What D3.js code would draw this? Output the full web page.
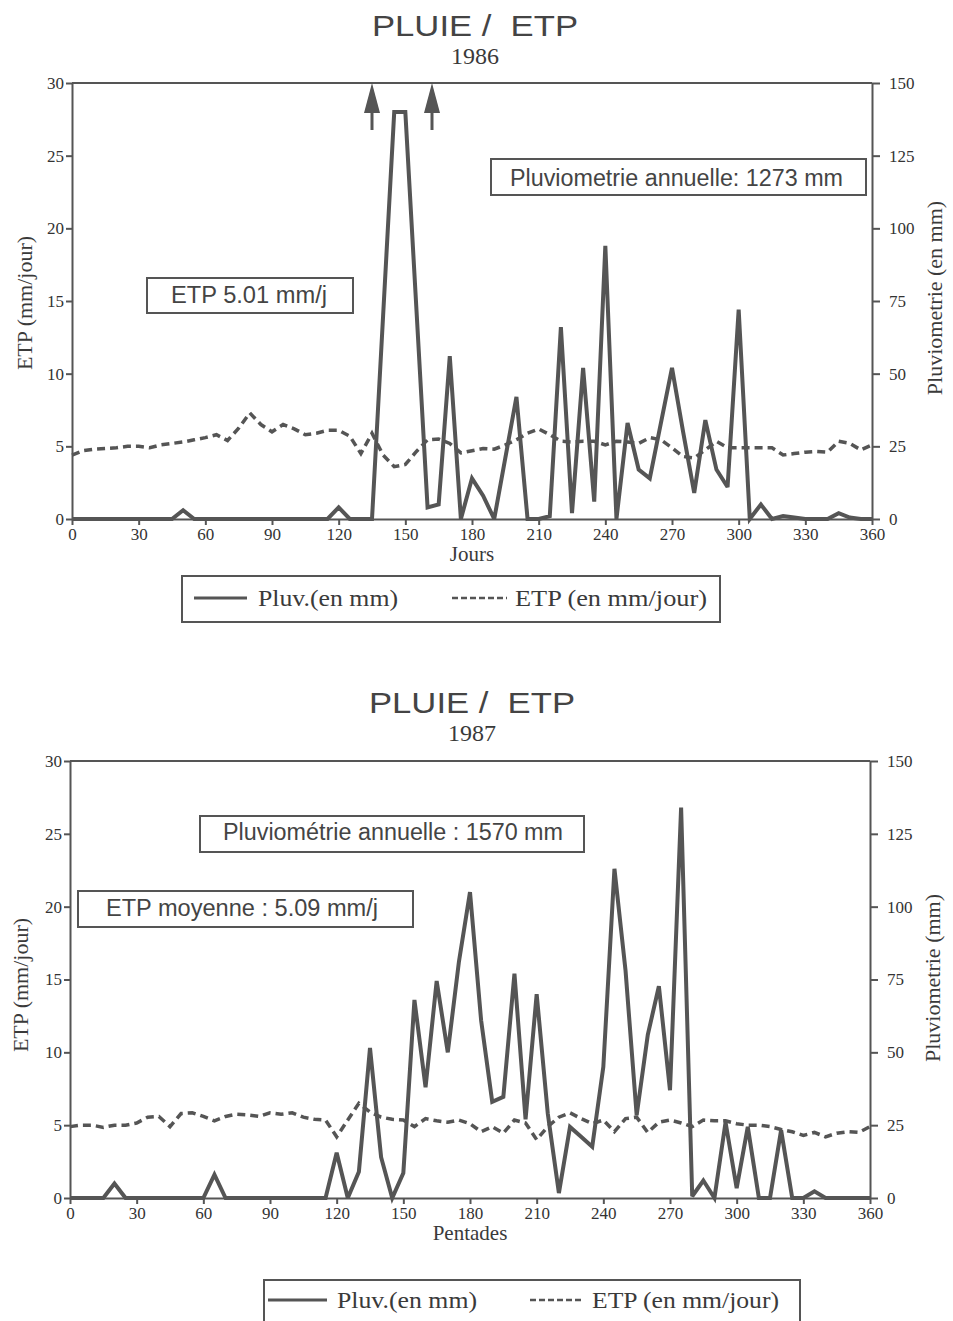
<!DOCTYPE html>
<html>
<head>
<meta charset="utf-8">
<script src="https://cdn.jsdelivr.net/npm/d3@7"></script>
<style>
  body { margin: 0; background: #fff; }
  svg text { fill: #3a3a3a; }
  .axis path, .axis line { stroke: #555; stroke-width: 2; }
</style>
</head>
<body>
<svg id="chart"></svg>
<script>
// pentades (days)
const days = [
  0, 5, 10, 15, 20, 25, 30, 35, 40, 45, 50, 55,
  60, 65, 70, 75, 80, 85, 90, 95, 100, 105, 110, 115,
  120, 125, 130, 135, 140, 145, 150, 155, 160, 165, 170, 175,
  180, 185, 190, 195, 200, 205, 210, 215, 220, 225, 230, 235,
  240, 245, 250, 255, 260, 265, 270, 275, 280, 285, 290, 295,
  300, 305, 310, 315, 320, 325, 330, 335, 340, 345, 350, 355,
  360
]

// 1986
const rain1986 = [
  0, 0, 0, 0, 0, 0, 0, 0, 0, 0, 3, 0,
  0, 0, 0, 0, 0, 0, 0, 0, 0, 0, 0, 0,
  4, 0, 0, 0, 70, 140, 140, 72, 4, 5, 56, 0,
  14, 8, 0, 21, 42, 0, 0, 1, 66, 2, 52, 6,
  94, 0, 33, 17, 14, 33, 52, 30, 9, 34, 17, 11,
  72, 0, 5, 0, 1, 0.5, 0, 0, 0, 2, 0.5, 0,
  0
]
const etp1986 = [
  4.4, 4.7, 4.8, 4.85, 4.9, 5.0, 5.0, 4.9, 5.1, 5.2, 5.3, 5.45,
  5.6, 5.8, 5.4, 6.25, 7.3, 6.5, 6.0, 6.5, 6.2, 5.8, 5.9, 6.1,
  6.1, 5.7, 4.5, 5.9, 4.4, 3.6, 3.75, 4.65, 5.45, 5.5, 5.2, 4.55,
  4.7, 4.85, 4.8, 5.1, 5.45, 5.9, 6.2, 5.8, 5.35, 5.3, 5.35, 5.35,
  5.1, 5.35, 5.3, 5.2, 5.6, 5.45, 4.9, 4.3, 4.2, 4.75, 5.35, 4.9,
  4.9, 4.9, 4.9, 4.9, 4.4, 4.5, 4.6, 4.65, 4.6, 5.35, 5.2, 4.75,
  5.1
]
const arrowDays1986 = [135, 162]

// 1987
const rain1987 = [
  0, 0, 0, 0, 5, 0, 0, 0, 0, 0, 0, 0,
  0, 8, 0, 0, 0, 0, 0, 0, 0, 0, 0, 0,
  15.5, 0, 9, 51.5, 14, 0, 8.6, 68, 38, 74.5, 50, 81,
  105, 61, 33, 34.7, 77, 27, 70, 29, 1.7, 24.4, 21, 17.6,
  45, 113, 78, 28.4, 56, 72.7, 37, 134, 0.6, 6, 0, 26,
  3.4, 24.4, 0, 0, 23.3, 0, 0, 2.3, 0, 0, 0, 0,
  0
]
const etp1987 = [
  4.9, 5.0, 5.0, 4.85, 5.0, 5.0, 5.15, 5.55, 5.6, 4.9, 5.8, 5.85,
  5.6, 5.3, 5.6, 5.75, 5.7, 5.6, 5.85, 5.75, 5.85, 5.55, 5.4, 5.35,
  4.2, 5.35, 6.5, 5.9, 5.55, 5.4, 5.35, 4.9, 5.45, 5.3, 5.2, 5.35,
  5.1, 4.55, 4.9, 4.45, 5.35, 5.15, 4.0, 4.9, 5.55, 5.85, 5.45, 5.1,
  5.35, 4.55, 5.45, 5.55, 4.5, 5.2, 5.35, 5.15, 4.9, 5.35, 5.3, 5.3,
  5.1, 5.0, 5.0, 4.9, 4.7, 4.55, 4.3, 4.5, 4.2, 4.45, 4.55, 4.5,
  4.9
]

// tick labels
const xTicks = [0, 30, 60, 90, 120, 150, 180, 210, 240, 270, 300, 330, 360]
const etpTicks = [0, 5, 10, 15, 20, 25, 30]
const rainTicks = [0, 25, 50, 75, 100, 125, 150]

const legendLabels = ['Pluv.(en mm)', 'ETP (en mm/jour)']

const serif = '"Liberation Serif", "DejaVu Serif", serif'
const sans = '"Liberation Sans", Arial, sans-serif'
const ink = '#555'

const svg = d3.select('#chart')
  .attr('width', 953)
  .attr('height', 1321)

// tick text in serif, like the original
function styleTicks(sel) {
  sel.selectAll('text')
    .style('font-family', serif)
    .style('font-size', '17px')
    .style('fill', '#333')
}

function drawPanel(p) {
  const g = svg.append('g')

  const xScale = d3.scaleLinear().domain([0, 360]).range([p.left, p.right])
  const yEtp = d3.scaleLinear().domain([0, 30]).range([p.bottom, p.top])
  const yRain = d3.scaleLinear().domain([0, 150]).range([p.bottom, p.top])

  // title (wide glyphs, as in the scan)
  g.append('text')
    .attr('x', p.titleX - 103).attr('y', p.titleY)
    .attr('textLength', 206).attr('lengthAdjust', 'spacingAndGlyphs')
    .style('font-family', sans).style('font-size', '29px')
    .style('fill', '#444')
    .attr('xml:space', 'preserve')
    .text('PLUIE /  ETP')
  g.append('text')
    .attr('x', p.titleX).attr('y', p.yearY)
    .attr('text-anchor', 'middle')
    .style('font-family', serif).style('font-size', '24px')
    .text(p.year)

  // frame top
  g.append('line')
    .attr('x1', p.left).attr('x2', p.right)
    .attr('y1', p.top).attr('y2', p.top)
    .attr('stroke', ink).attr('stroke-width', 2)

  // axes
  g.append('g').attr('class', 'axis')
    .attr('transform', `translate(0,${p.bottom})`)
    .call(d3.axisBottom(xScale).tickValues(xTicks).tickSize(6).tickPadding(3).tickSizeOuter(0))
    .call(styleTicks)

  g.append('g').attr('class', 'axis')
    .attr('transform', `translate(${p.left},0)`)
    .call(d3.axisLeft(yEtp).tickValues(etpTicks).tickSize(6).tickPadding(2).tickSizeOuter(0))
    .call(styleTicks)

  g.append('g').attr('class', 'axis')
    .attr('transform', `translate(${p.right},0)`)
    .call(d3.axisRight(yRain).tickValues(rainTicks).tickSize(8).tickPadding(9).tickSizeOuter(0))
    .call(styleTicks)

  // axis titles
  g.append('text')
    .attr('x', (p.left + p.right) / 2).attr('y', p.bottom + 42)
    .attr('text-anchor', 'middle')
    .style('font-family', serif).style('font-size', '21px')
    .text(p.xLabel)

  g.append('text')
    .attr('transform', `translate(${p.leftLabelX},${p.leftLabelY}) rotate(-90)`)
    .attr('text-anchor', 'middle')
    .style('font-family', serif).style('font-size', '22px')
    .text('ETP (mm/jour)')

  g.append('text')
    .attr('transform', `translate(${p.rightLabelX},${p.rightLabelY}) rotate(-90)`)
    .attr('text-anchor', 'middle')
    .style('font-family', serif).style('font-size', '22px')
    .text(p.rightLabel)

  // ETP dashed line
  const etpLine = d3.line()
    .x((d, i) => xScale(days[i]))
    .y(d => yEtp(d))
  g.append('path')
    .datum(p.etp)
    .attr('d', etpLine)
    .attr('fill', 'none')
    .attr('stroke', ink)
    .attr('stroke-width', 3.5)
    .attr('stroke-dasharray', '8,5')

  // rain solid line
  const rainLine = d3.line()
    .x((d, i) => xScale(days[i]))
    .y(d => yRain(d))
  g.append('path')
    .datum(p.rain)
    .attr('d', rainLine)
    .attr('fill', 'none')
    .attr('stroke', ink)
    .attr('stroke-width', 4)
    .attr('stroke-linejoin', 'miter')
    .attr('stroke-miterlimit', 3)

  // arrows
  p.arrows.forEach(d => {
    const x = xScale(d)
    g.append('path')
      .attr('d', `M${x},${p.top} L${x - 8},${p.top + 30} L${x + 8},${p.top + 30} Z`)
      .attr('fill', ink)
    g.append('line')
      .attr('x1', x).attr('x2', x)
      .attr('y1', p.top + 28).attr('y2', p.top + 47)
      .attr('stroke', ink).attr('stroke-width', 3)
  })

  // annotation boxes
  p.boxes.forEach(b => {
    g.append('rect')
      .attr('x', b.x).attr('y', b.y)
      .attr('width', b.w).attr('height', b.h)
      .attr('fill', '#fff')
      .attr('stroke', ink).attr('stroke-width', 2)
    g.append('text')
      .attr('x', b.tx).attr('y', b.ty)
      .attr('textLength', b.tw).attr('lengthAdjust', 'spacingAndGlyphs')
      .style('font-family', sans).style('font-size', '23px')
      .style('fill', '#444')
      .text(b.text)
  })

  // legend
  const L = p.legend
  g.append('rect')
    .attr('x', L.x).attr('y', L.y)
    .attr('width', L.w).attr('height', L.h)
    .attr('fill', 'none')
    .attr('stroke', ink).attr('stroke-width', 2)
  g.append('line')
    .attr('x1', L.s1[0]).attr('x2', L.s1[1])
    .attr('y1', L.ly).attr('y2', L.ly)
    .attr('stroke', ink).attr('stroke-width', 3)
  g.append('line')
    .attr('x1', L.s2[0]).attr('x2', L.s2[1])
    .attr('y1', L.ly).attr('y2', L.ly)
    .attr('stroke', ink).attr('stroke-width', 2.5)
    .attr('stroke-dasharray', '6,3')
  legendLabels.forEach((t, i) => {
    g.append('text')
      .attr('x', L.tx[i]).attr('y', L.ty)
      .attr('textLength', L.tw[i]).attr('lengthAdjust', 'spacingAndGlyphs')
      .style('font-family', serif).style('font-size', '23px')
      .text(t)
  })
}

drawPanel({
  year: '1986', titleX: 475, titleY: 36, yearY: 64,
  left: 72, right: 872, top: 83, bottom: 519,
  rain: rain1986, etp: etp1986, arrows: arrowDays1986,
  xLabel: 'Jours', rightLabel: 'Pluviometrie (en mm)',
  leftLabelX: 32, leftLabelY: 303, rightLabelX: 942, rightLabelY: 298,
  boxes: [
    { text: 'ETP 5.01 mm/j', x: 147, y: 278, w: 206, h: 35, tx: 171, ty: 303, tw: 156 },
    { text: 'Pluviometrie annuelle: 1273 mm', x: 491, y: 159, w: 375, h: 36, tx: 510, ty: 186, tw: 333 }
  ],
  legend: { x: 182, y: 576, w: 538, h: 46, ly: 598, ty: 606,
    s1: [194, 247], s2: [452, 507], tx: [258, 515], tw: [140, 192] }
})

drawPanel({
  year: '1987', titleX: 472, titleY: 713, yearY: 741,
  left: 70, right: 870, top: 761, bottom: 1198,
  rain: rain1987, etp: etp1987, arrows: [],
  xLabel: 'Pentades', rightLabel: 'Pluviometrie (mm)',
  leftLabelX: 28, leftLabelY: 985, rightLabelX: 940, rightLabelY: 978,
  boxes: [
    { text: 'Pluviométrie annuelle : 1570 mm', x: 200, y: 816, w: 384, h: 36, tx: 223, ty: 840, tw: 340 },
    { text: 'ETP moyenne : 5.09 mm/j', x: 78, y: 891, w: 335, h: 36, tx: 106, ty: 916, tw: 272 }
  ],
  legend: { x: 264, y: 1280, w: 536, h: 60, ly: 1300, ty: 1308,
    s1: [268, 327], s2: [530, 581], tx: [337, 592], tw: [140, 187] }
})
</script>
</body>
</html>
